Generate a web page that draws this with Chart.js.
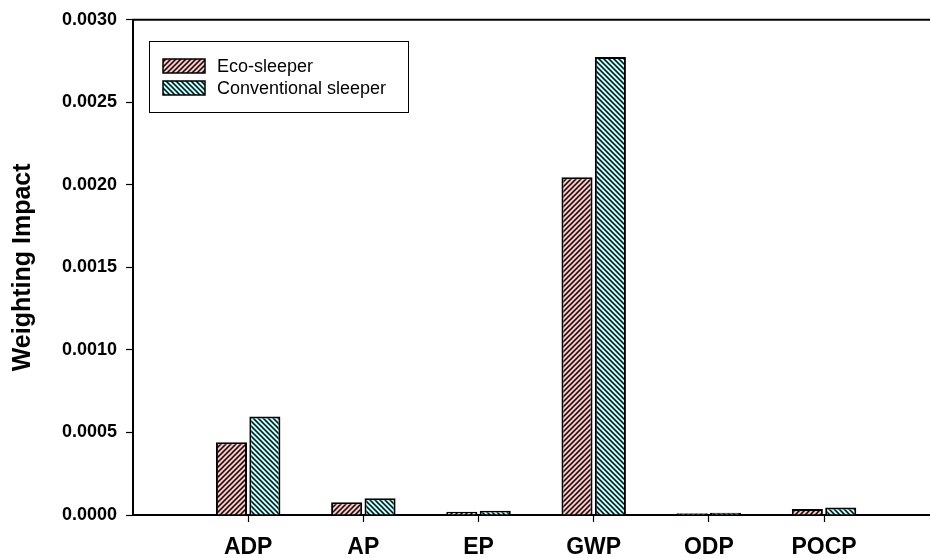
<!DOCTYPE html>
<html>
<head>
<meta charset="utf-8">
<script src="https://cdn.jsdelivr.net/npm/chart.js@4/dist/chart.umd.min.js"></script>
<style>
  html, body { margin: 0; padding: 0; background: #fff; }
  #wrap { width: 930px; height: 558px; }
</style>
</head>
<body>
<div id="wrap"><canvas id="c" width="930" height="558"></canvas></div>
<script>
const categories = ['ADP', 'AP', 'EP', 'GWP', 'ODP', 'POCP'];
const ecoSleeper = [0.000440, 0.0000765, 0.000020, 0.002046, 0.000011, 0.000036];
const conventionalSleeper = [0.000596, 0.000102, 0.000026, 0.002775, 0.000013, 0.000046];
const seriesNames = ['Eco-sleeper', 'Conventional sleeper'];
const yTicks = [0, 0.0005, 0.0010, 0.0015, 0.0020, 0.0025, 0.0030];

const FONT = "'Liberation Sans', Arial, sans-serif";
Chart.defaults.color = '#000';
Chart.defaults.font.family = FONT;

function makePattern(bg, dir) {
  const s = 5;
  const c = document.createElement('canvas');
  c.width = s; c.height = s;
  const g = c.getContext('2d');
  g.fillStyle = bg;
  g.fillRect(0, 0, s, s);
  g.strokeStyle = '#000';
  g.lineWidth = 1.5;
  g.beginPath();
  if (dir === '/') {
    g.moveTo(-1, s + 1); g.lineTo(s + 1, -1);
    g.moveTo(-1 - s, s + 1); g.lineTo(1, -1);
    g.moveTo(s - 1, s + 1); g.lineTo(2 * s + 1, -1);
  } else {
    g.moveTo(-1, -1); g.lineTo(s + 1, s + 1);
    g.moveTo(-1 - s, -1); g.lineTo(1, s + 1);
    g.moveTo(s - 1, -1); g.lineTo(2 * s + 1, s + 1);
  }
  g.stroke();
  return g.createPattern(c, 'repeat');
}

const ctx = document.getElementById('c').getContext('2d');
const pinkPat = makePattern('#ffc2c2', '/');
const cyanPat = makePattern('#b0ffff', '\\');

const topLine = {
  id: 'topLine',
  afterDraw(chart) {
    const { ctx, chartArea } = chart;
    ctx.save();
    ctx.strokeStyle = '#000';
    ctx.lineWidth = 2;
    ctx.beginPath();
    ctx.moveTo(chartArea.left - 1, chartArea.top);
    ctx.lineTo(chartArea.right, chartArea.top);
    ctx.stroke();
    ctx.restore();
  }
};

const boxLegend = {
  id: 'boxLegend',
  afterDraw(chart) {
    const { ctx } = chart;
    ctx.save();
    ctx.strokeStyle = '#000';
    ctx.lineWidth = 1;
    ctx.strokeRect(149.5, 41.5, 259, 71);
    const rows = [66, 88];
    chart.data.datasets.forEach((ds, i) => {
      const cy = rows[i];
      ctx.fillStyle = ds.backgroundColor;
      ctx.fillRect(163, cy - 7, 42, 14);
      ctx.lineWidth = 1.5;
      ctx.strokeRect(163, cy - 7, 42, 14);
      ctx.fillStyle = '#000';
      ctx.font = '18px ' + FONT;
      ctx.textBaseline = 'middle';
      ctx.textAlign = 'left';
      ctx.fillText(ds.label, 217, cy + 1);
    });
    ctx.restore();
  }
};

new Chart(ctx, {
  type: 'bar',
  data: {
    datasets: [
      {
        label: seriesNames[0],
        data: ecoSleeper.map((v, i) => ({ x: i, y: v })),
        backgroundColor: pinkPat,
        borderColor: '#000',
        borderWidth: 2
      },
      {
        label: seriesNames[1],
        data: conventionalSleeper.map((v, i) => ({ x: i, y: v })),
        backgroundColor: cyanPat,
        borderColor: '#000',
        borderWidth: 2
      }
    ]
  },
  options: {
    responsive: false,
    animation: false,
    devicePixelRatio: 1,
    categoryPercentage: 0.58,
    barPercentage: 0.93,
    layout: { padding: { top: 17, right: 0, left: 0, bottom: 0 } },
    plugins: {
      legend: { display: false },
      tooltip: { enabled: false }
    },
    scales: {
      x: {
        type: 'linear',
        offset: false,
        min: -1,
        max: 5.92,
        afterBuildTicks(axis) { axis.ticks = categories.map((c, i) => ({ value: i })); },
        afterFit(axis) { axis.height = 43; },
        grid: {
          offset: false,
          drawOnChartArea: false,
          drawTicks: true,
          tickLength: 7,
          tickColor: '#000',
          tickWidth: 1.2
        },
        border: { display: true, color: '#000', width: 2 },
        ticks: {
          autoSkip: false,
          maxRotation: 0,
          padding: 12,
          font: { size: 23, weight: 'bold' },
          callback: (v) => categories[v] !== undefined ? categories[v] : ''
        }
      },
      y: {
        min: 0,
        max: 0.003,
        afterBuildTicks(axis) { axis.ticks = yTicks.map(v => ({ value: v })); },
        afterFit(axis) { axis.width = 133; },
        grid: {
          drawOnChartArea: false,
          drawTicks: true,
          tickLength: 7,
          tickColor: '#000',
          tickWidth: 1.2
        },
        border: { display: true, color: '#000', width: 2 },
        ticks: {
          padding: 9,
          font: { size: 18, weight: 'bold' },
          callback: (v) => Number(v).toFixed(4)
        },
        title: {
          display: true,
          text: 'Weighting Impact',
          font: { size: 25, weight: 'bold' },
          padding: { top: 8, bottom: 0 }
        }
      }
    }
  },
  plugins: [topLine, boxLegend]
});
</script>
</body>
</html>
